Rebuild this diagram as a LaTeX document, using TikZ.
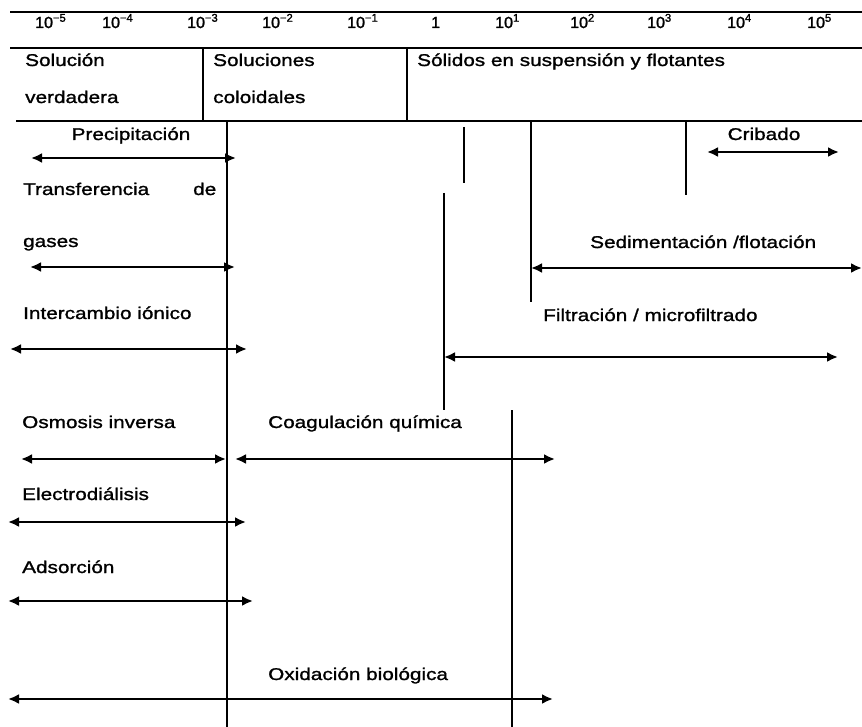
\documentclass[tikz,border=0pt]{standalone}
\usepackage{fontspec}
\setmainfont{Liberation Sans}[FakeStretch=1.22,FakeBold=1.3]
\newfontfamily\numfont{Liberation Sans}[FakeBold=1.6]
\usetikzlibrary{arrows.meta}
\begin{document}
\begin{tikzpicture}[x=1pt,y=-1pt,
  lbl/.style={anchor=base west, inner sep=0pt, font=\fontsize{17}{20}\selectfont},
  lblc/.style={anchor=base, inner sep=0pt, font=\fontsize{17}{20}\selectfont},
  numlbl/.style={anchor=base west, inner sep=0pt, font=\numfont\fontsize{16}{19}\selectfont},
  tablerule/.style={line width=2pt},
  guideline/.style={line width=1.5pt},
  spanarrow/.style={line width=2.8pt, {Latex[length=11pt,width=10pt]}-{Latex[length=11pt,width=10pt]}}
]
\useasboundingbox[fill=white] (0,0) rectangle (862,727);

% table rules
\coordinate (t1a) at (10,12);  \coordinate (t1b) at (862,12);
\coordinate (t2a) at (10,48);  \coordinate (t2b) at (862,48);
\coordinate (t3a) at (16,121); \coordinate (t3b) at (862,121);
\draw[tablerule] (t1a) -- (t1b);
\draw[tablerule] (t2a) -- (t2b);
\draw[tablerule] (t3a) -- (t3b);
\coordinate (d1a) at (203,48); \coordinate (d1b) at (203,121);
\coordinate (d2a) at (407,48); \coordinate (d2b) at (407,121);
\draw[guideline] (d1a) -- (d1b);
\draw[guideline] (d2a) -- (d2b);

% scale labels
\node[numlbl] (n1)  at (35,28)  {10\textsuperscript{−5}};
\node[numlbl] (n2)  at (102,28) {10\textsuperscript{−4}};
\node[numlbl] (n3)  at (187,28) {10\textsuperscript{−3}};
\node[numlbl] (n4)  at (262,28) {10\textsuperscript{−2}};
\node[numlbl] (n5)  at (347,28) {10\textsuperscript{−1}};
\node[numlbl] (n6)  at (431,28) {1};
\node[numlbl] (n7)  at (495,28) {10\textsuperscript{1}};
\node[numlbl] (n8)  at (570,28) {10\textsuperscript{2}};
\node[numlbl] (n9)  at (647,28) {10\textsuperscript{3}};
\node[numlbl] (n10) at (727,28) {10\textsuperscript{4}};
\node[numlbl] (n11) at (807,28) {10\textsuperscript{5}};

% categories
\node[lbl] (c1a) at (25,66)  {Solución};
\node[lbl] (c1b) at (25,103) {verdadera};
\node[lbl] (c2a) at (213,66) {Soluciones};
\node[lbl] (c2b) at (213,103) {coloidales};
\node[lbl] (c3)  at (417,66) {Sólidos en suspensión y flotantes};

% vertical guide lines
\coordinate (v1a) at (227,121); \coordinate (v1b) at (227,727);
\coordinate (v2a) at (464,127); \coordinate (v2b) at (464,183);
\coordinate (v3a) at (531,121); \coordinate (v3b) at (531,302);
\coordinate (v4a) at (686,121); \coordinate (v4b) at (686,195);
\coordinate (v5a) at (444,193); \coordinate (v5b) at (444,410);
\coordinate (v6a) at (512,410); \coordinate (v6b) at (512,727);
\draw[guideline] (v1a) -- (v1b);
\draw[line width=2.6pt] (v2a) -- (v2b);
\draw[guideline] (v3a) -- (v3b);
\draw[guideline] (v4a) -- (v4b);
\draw[guideline] (v5a) -- (v5b);
\draw[guideline] (v6a) -- (v6b);

% processes
\node[lblc] (pre) at (131,140) {Precipitación};
\coordinate (preA) at (31,158); \coordinate (preB) at (236,158);
\draw[spanarrow] (preA) -- (preB);

\node[lblc] (cri) at (764,140) {Cribado};
\coordinate (criA) at (707,152); \coordinate (criB) at (839,152);
\draw[spanarrow] (criA) -- (criB);

\node[lbl] (tra1) at (23,195) {Transferencia};
\node[lbl] (tra2) at (193,195) {de};
\node[lbl] (tra3) at (23,247) {gases};
\coordinate (traA) at (30,267); \coordinate (traB) at (235,267);
\draw[spanarrow] (traA) -- (traB);

\node[lbl] (sed) at (590,248) {Sedimentación /flotación};
\coordinate (sedA) at (531,268); \coordinate (sedB) at (862,268);
\draw[spanarrow] (sedA) -- (sedB);

\node[lbl] (int) at (23,319) {Intercambio iónico};
\coordinate (intA) at (10,349); \coordinate (intB) at (247,349);
\draw[spanarrow] (intA) -- (intB);

\node[lbl] (fil) at (543,321) {Filtración / microfiltrado};
\coordinate (filA) at (444,357); \coordinate (filB) at (838,357);
\draw[spanarrow] (filA) -- (filB);

\node[lbl] (osm) at (22,428) {Osmosis inversa};
\coordinate (osmA) at (21,459); \coordinate (osmB) at (226,459);
\draw[spanarrow] (osmA) -- (osmB);

\node[lbl] (coa) at (268,428) {Coagulación química};
\coordinate (coaA) at (235,459); \coordinate (coaB) at (555,459);
\draw[spanarrow] (coaA) -- (coaB);

\node[lbl] (ele) at (22,500) {Electrodiálisis};
\coordinate (eleA) at (8,522); \coordinate (eleB) at (246,522);
\draw[spanarrow] (eleA) -- (eleB);

\node[lbl] (ads) at (22,573) {Adsorción};
\coordinate (adsA) at (8,601); \coordinate (adsB) at (253,601);
\draw[spanarrow] (adsA) -- (adsB);

\node[lbl] (oxi) at (268,680) {Oxidación biológica};
\coordinate (oxiA) at (8,699); \coordinate (oxiB) at (553,699);
\draw[spanarrow] (oxiA) -- (oxiB);
\end{tikzpicture}
\end{document}
